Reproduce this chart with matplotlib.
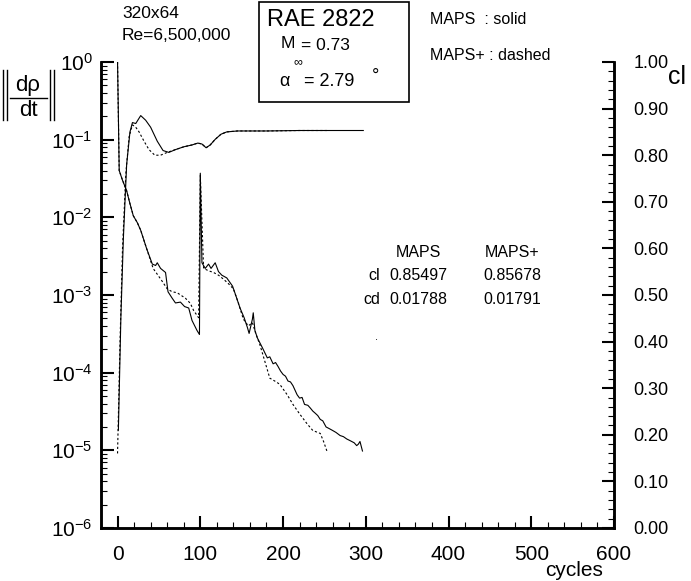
import matplotlib

matplotlib.use("Agg")
import matplotlib.pyplot as plt
from matplotlib.lines import Line2D
from matplotlib.patches import Rectangle
from matplotlib.ticker import FixedLocator, MultipleLocator, LogLocator, NullFormatter

plt.rcParams["font.family"] = ["Liberation Sans", "DejaVu Sans"]
plt.rcParams["mathtext.fontset"] = "custom"
plt.rcParams["mathtext.rm"] = "Liberation Sans"

# residual ||d rho/dt||, MAPS (solid)
res_solid_cyc = [0, 2, 6, 11, 15, 19, 24, 28, 35, 42, 46, 48, 52, 58, 61, 66, 70,
                 76, 81, 86, 90, 96, 99, 100, 102, 106, 110, 113, 118, 122, 126,
                 132, 139, 143, 148, 153, 157, 159, 163, 164, 166, 169, 175, 181,
                 184, 188, 191, 194, 197, 200, 203, 206, 209, 212, 217, 220, 223,
                 226, 230, 233, 236, 239, 242, 245, 248, 252, 256, 260, 264, 269,
                 273, 277, 280, 283, 286, 289, 291, 293, 296]
res_solid = [1.0, 4.0e-2, 3.0e-2, 2.2e-2, 1.5e-2, 1.05e-2, 8.5e-3, 6.8e-3, 4.0e-3,
             2.5e-3, 2.4e-3, 2.6e-3, 2.2e-3, 1.95e-3, 1.1e-3, 9.1e-4, 7.9e-4,
             8.1e-4, 7.1e-4, 6.8e-4, 4.7e-4, 3.5e-4, 3.1e-4, 3.7e-2, 2.6e-3,
             2.2e-3, 2.5e-3, 2.2e-3, 2.6e-3, 2.0e-3, 1.8e-3, 1.66e-3, 1.3e-3,
             9.8e-4, 6.8e-4, 5.1e-4, 3.8e-4, 3.2e-4, 4.9e-4, 5.9e-4, 3.5e-4,
             2.8e-4, 2.1e-4, 1.55e-4, 1.6e-4, 1.3e-4, 1.35e-4, 1.2e-4, 1.05e-4,
             9.5e-5, 9.0e-5, 7.8e-5, 7.6e-5, 6.8e-5, 5.2e-5, 4.7e-5, 4.8e-5,
             3.9e-5, 3.8e-5, 3.5e-5, 3.2e-5, 3.0e-5, 2.8e-5, 2.5e-5, 2.4e-5,
             2.0e-5, 1.9e-5, 1.8e-5, 1.7e-5, 1.55e-5, 1.5e-5, 1.4e-5, 1.35e-5,
             1.3e-5, 1.25e-5, 1.15e-5, 1.2e-5, 1.3e-5, 9.8e-6]

# residual, MAPS+ (dashed)
res_dash_cyc = [0, 2, 6, 11, 15, 19, 24, 28, 35, 43, 48, 54, 60, 66, 72, 82, 88,
                92, 98, 100, 104, 110, 116, 122, 128, 134, 140, 146, 152, 158,
                163, 167, 172, 178, 184, 190, 196, 205, 212, 220, 229, 236, 245,
                249, 253]
res_dash = [1.0, 4.0e-2, 3.0e-2, 2.2e-2, 1.5e-2, 1.05e-2, 8.5e-3, 6.8e-3, 4.0e-3,
            2.2e-3, 1.85e-3, 1.5e-3, 1.2e-3, 1.1e-3, 1.07e-3, 9.1e-4, 7.8e-4,
            6.3e-4, 5.1e-4, 3.5e-2, 2.2e-3, 2.05e-3, 1.95e-3, 1.8e-3, 1.6e-3,
            1.4e-3, 1.2e-3, 7.9e-4, 4.9e-4, 4.0e-4, 4.4e-4, 3.2e-4, 2.3e-4,
            1.4e-4, 8.5e-5, 7.8e-5, 7.1e-5, 5.2e-5, 3.9e-5, 2.95e-5, 2.2e-5,
            1.8e-5, 1.65e-5, 1.3e-5, 9.8e-6]

# lift coefficient cl, MAPS (solid)
cl_solid_cyc = [1, 4, 7, 11, 15, 18, 22, 28, 34, 40, 48, 55, 62, 70, 80, 90, 97,
                102, 107, 112, 118, 125, 132, 145, 180, 220, 260, 297]
cl_solid = [0.21, 0.45, 0.62, 0.78, 0.85, 0.87, 0.868, 0.885, 0.875, 0.86, 0.83,
            0.81, 0.806, 0.812, 0.818, 0.822, 0.826, 0.824, 0.816, 0.822, 0.834,
            0.845, 0.850, 0.852, 0.852, 0.853, 0.853, 0.853]

# lift coefficient cl, MAPS+ (dashed)
cl_dash_cyc = [0, 3, 6, 10, 14, 18, 22, 26, 32, 38, 45, 52, 60, 70, 80, 90, 97,
               102, 107, 112, 118, 125, 132, 145, 180, 220, 255]
cl_dash = [0.16, 0.40, 0.60, 0.76, 0.84, 0.865, 0.86, 0.85, 0.83, 0.812, 0.80,
           0.80, 0.806, 0.812, 0.818, 0.822, 0.826, 0.824, 0.816, 0.822, 0.834,
           0.845, 0.850, 0.852, 0.852, 0.853, 0.853]

table_cols = ["MAPS", "MAPS+"]
table_rows = ["cl", "cd"]
table_vals = [["0.85497", "0.85678"], ["0.01788", "0.01791"]]

W, H = 691, 581


def fx(px):
    return px / W


def fy(py):
    return 1 - py / H


fig = plt.figure(figsize=(W / 100, H / 100), dpi=100)
ax = fig.add_axes([fx(101), fy(528), (614 - 101) / W, (528 - 62) / H])
ax2 = ax.twinx()

ax.plot(res_solid_cyc, res_solid, color="black", lw=0.8)
ax.plot(res_dash_cyc, res_dash, color="black", lw=0.8, ls=(0, (2, 2)))
ax2.plot(cl_solid_cyc, cl_solid, color="black", lw=0.8)
ax2.plot(cl_dash_cyc, cl_dash, color="black", lw=0.8, ls=(0, (2, 2)))

ax.set_yscale("log")
ax.set_ylim(1e-6, 1)
ax.set_xlim(-20, 600)
ax2.set_ylim(0, 1)

ax.xaxis.set_major_locator(FixedLocator([0, 100, 200, 300, 400, 500, 600]))
ax.xaxis.set_minor_locator(MultipleLocator(20))
ax.yaxis.set_major_locator(LogLocator(base=10, numticks=10))
ax.yaxis.set_minor_locator(LogLocator(base=10, subs=range(2, 10), numticks=10))
ax.yaxis.set_minor_formatter(NullFormatter())
ax2.yaxis.set_major_locator(MultipleLocator(0.1))
ax2.yaxis.set_minor_locator(MultipleLocator(0.02))
ax2.yaxis.set_major_formatter(plt.FuncFormatter(lambda v, p: f"{v:.2f}"))

for a in (ax, ax2):
    a.spines["top"].set_visible(False)
    for s in ("left", "right", "bottom"):
        a.spines[s].set_linewidth(1.8)
ax.tick_params(axis="both", which="major", direction="in", length=9, width=1.5,
               labelsize=15, pad=12)
ax.tick_params(axis="both", which="minor", direction="in", length=4, width=0.8)
ax.tick_params(axis="y", which="major", labelsize=15, pad=6)
ax2.tick_params(axis="y", which="major", direction="in", length=9, width=1.5,
                labelsize=13, pad=14)
ax2.tick_params(axis="y", which="minor", direction="in", length=4, width=0.8)

fig.text(fx(574), fy(571), "cycles", fontsize=15, ha="center", va="center")
fig.text(fx(668), fy(77), "cl", fontsize=18, ha="left", va="center")

# ||d rho / dt|| label
fig.text(fx(28), fy(86), "d\u03c1", fontsize=16, ha="center", va="center")
fig.text(fx(28), fy(110), "dt", fontsize=16, ha="center", va="center")
fig.add_artist(Line2D([fx(10), fx(47)], [fy(98), fy(98)], color="black", lw=1.0))
for bx in (3, 7, 50, 54):
    fig.add_artist(Line2D([fx(bx), fx(bx)], [fy(70), fy(120)], color="black", lw=1.0))

fig.text(fx(122), fy(13), "320x64", fontsize=12.5, ha="left", va="center")
fig.text(fx(122), fy(35), "Re=6,500,000", fontsize=12.5, ha="left", va="center")

fig.add_artist(Rectangle((fx(259), fy(102)), (409 - 259) / W, 100 / H,
                         fill=False, edgecolor="black", lw=1.2))
fig.text(fx(267), fy(20), "RAE 2822", fontsize=17, ha="left", va="center")
fig.text(fx(281), fy(44), "M", fontsize=12.5, ha="left", va="center")
fig.text(fx(293), fy(62), "\u221e", fontsize=9, ha="left", va="center")
fig.text(fx(301), fy(45), "= 0.73", fontsize=12.5, ha="left", va="center")
fig.text(fx(279), fy(82), "\u03b1", fontsize=13, ha="left", va="center")
fig.text(fx(304), fy(82), "= 2.79", fontsize=13, ha="left", va="center")
fig.text(fx(372), fy(76), "\u00b0", fontsize=13, ha="left", va="center")

fig.text(fx(430), fy(20), "MAPS  : solid", fontsize=11.5, ha="left", va="center")
fig.text(fx(430), fy(56), "MAPS+ : dashed", fontsize=11.5, ha="left", va="center")

col_x = [418, 512]
for cx, name in zip(col_x, table_cols):
    fig.text(fx(cx), fy(253), name, fontsize=11.5, ha="center", va="center")
for ry, rname, vals in zip([276, 300], table_rows, table_vals):
    fig.text(fx(380), fy(ry), rname, fontsize=11.5, ha="right", va="center")
    for cx, v in zip(col_x, vals):
        fig.text(fx(cx), fy(ry), v, fontsize=11.5, ha="center", va="center")
fig.text(fx(377), fy(337), ".", fontsize=8, ha="center", va="center")

fig.savefig("out.png", dpi=100)
